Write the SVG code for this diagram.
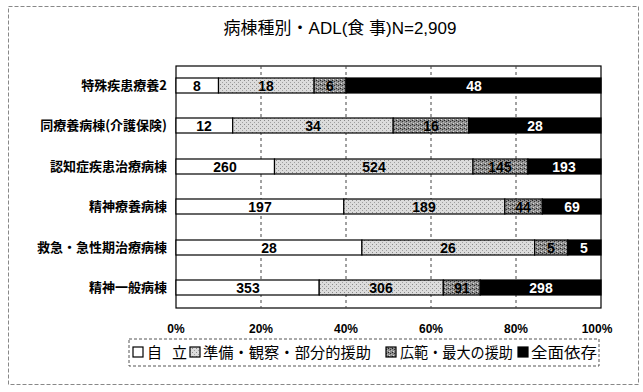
<svg xmlns="http://www.w3.org/2000/svg" width="643" height="392" viewBox="0 0 643 392">
<defs>
<pattern id="pLight" width="4" height="4" patternUnits="userSpaceOnUse">
<rect width="4" height="4" fill="#dcdcdc"/>
<rect x="0" y="0" width="1" height="1" fill="#8a8a8a"/>
<rect x="2" y="2" width="1" height="1" fill="#a0a0a0"/>
</pattern>
<pattern id="pDark" width="4" height="4" patternUnits="userSpaceOnUse">
<rect width="4" height="4" fill="#8c8c8c"/>
<rect x="0" y="0" width="1" height="1" fill="#222"/>
<rect x="2" y="1" width="1" height="1" fill="#333"/>
<rect x="1" y="3" width="1" height="1" fill="#dcdcdc"/>
<rect x="3" y="2" width="1" height="1" fill="#bbb"/>
</pattern>
<style>
.frame{fill:#fff;stroke:#888;stroke-width:1;stroke-dasharray:4,2}
.plot{fill:#fff;stroke:#000;stroke-width:1.2}
.grid{stroke:#444;stroke-width:1;stroke-dasharray:3,3}
.seg{stroke:#000;stroke-width:1.2}
.w{fill:#fff}.l{fill:url(#pLight)}.d{fill:url(#pDark)}.b{fill:#000}
.cat{font-family:"Noto Sans CJK JP","Noto Sans CJK SC",sans-serif;font-size:13px;font-weight:bold;fill:#000;text-anchor:end}
.val{font-family:"Liberation Sans",Arial,sans-serif;font-size:14px;font-weight:bold;text-anchor:middle}
.vk{fill:#000}.vw{fill:#fff}
.ax{font-family:"Liberation Sans",Arial,sans-serif;font-size:12px;font-weight:bold;fill:#000;text-anchor:middle}
.title{font-family:"Liberation Sans","Noto Sans CJK JP",sans-serif;font-size:17px;fill:#000}
.leg{font-family:"Noto Sans CJK JP","Noto Sans CJK SC",sans-serif;font-size:15px;fill:#000}
.lbox{fill:#fff;stroke:#555;stroke-width:1;stroke-dasharray:3,2}
.key{stroke:#000;stroke-width:1.2}
</style>
</defs>
<rect class="frame" x="8.5" y="6.5" width="630" height="378"/>
<text class="title" x="340" y="34" text-anchor="middle">病棟種別・ADL(食 事)N=2,909</text>
<g id="plot-area">
<rect class="plot" x="176" y="66" width="425" height="242"/>
<line class="grid" x1="261" y1="66" x2="261" y2="308"/>
<line class="grid" x1="346" y1="66" x2="346" y2="308"/>
<line class="grid" x1="431" y1="66" x2="431" y2="308"/>
<line class="grid" x1="516" y1="66" x2="516" y2="308"/>
</g>
<g id="row1">
<text class="cat" x="167" y="90">特殊疾患療養2</text>
<rect class="seg w" x="176" y="78" width="42.5" height="15"/>
<rect class="seg l" x="218.5" y="78" width="95.6" height="15"/>
<rect class="seg d" x="314.1" y="78" width="31.9" height="15"/>
<rect class="seg b" x="346" y="78" width="255" height="15"/>
<text class="val vk" x="197" y="91">8</text>
<text class="val vk" x="266" y="91">18</text>
<text class="val vk" x="330" y="91">6</text>
<text class="val vw" x="474" y="91">48</text>
</g>
<g id="row2">
<text class="cat" x="167" y="130">同療養病棟(介護保険)</text>
<rect class="seg w" x="176" y="118" width="56.7" height="15"/>
<rect class="seg l" x="232.7" y="118" width="160.5" height="15"/>
<rect class="seg d" x="393.2" y="118" width="75.6" height="15"/>
<rect class="seg b" x="468.8" y="118" width="132.2" height="15"/>
<text class="val vk" x="204" y="131">12</text>
<text class="val vk" x="313" y="131">34</text>
<text class="val vk" x="431" y="131">16</text>
<text class="val vw" x="535" y="131">28</text>
</g>
<g id="row3">
<text class="cat" x="167" y="171">認知症疾患治療病棟</text>
<rect class="seg w" x="176" y="159" width="98.5" height="15"/>
<rect class="seg l" x="274.5" y="159" width="198.5" height="15"/>
<rect class="seg d" x="473" y="159" width="54.9" height="15"/>
<rect class="seg b" x="527.9" y="159" width="73.1" height="15"/>
<text class="val vk" x="225" y="172">260</text>
<text class="val vk" x="374" y="172">524</text>
<text class="val vk" x="500" y="172">145</text>
<text class="val vw" x="564" y="172">193</text>
</g>
<g id="row4">
<text class="cat" x="167" y="211">精神療養病棟</text>
<rect class="seg w" x="176" y="199" width="167.8" height="15"/>
<rect class="seg l" x="343.8" y="199" width="161" height="15"/>
<rect class="seg d" x="504.8" y="199" width="37.5" height="15"/>
<rect class="seg b" x="542.3" y="199" width="58.7" height="15"/>
<text class="val vk" x="260" y="212">197</text>
<text class="val vk" x="424" y="212">189</text>
<text class="val vk" x="523" y="212">44</text>
<text class="val vw" x="572" y="212">69</text>
</g>
<g id="row5">
<text class="cat" x="167" y="252">救急・急性期治療病棟</text>
<rect class="seg w" x="176" y="240" width="185.9" height="15"/>
<rect class="seg l" x="361.9" y="240" width="172.7" height="15"/>
<rect class="seg d" x="534.6" y="240" width="33.2" height="15"/>
<rect class="seg b" x="567.8" y="240" width="33.2" height="15"/>
<text class="val vk" x="269" y="253">28</text>
<text class="val vk" x="448" y="253">26</text>
<text class="val vk" x="551" y="253">5</text>
<text class="val vw" x="584" y="253">5</text>
</g>
<g id="row6">
<text class="cat" x="167" y="292">精神一般病棟</text>
<rect class="seg w" x="176" y="280" width="143.2" height="15"/>
<rect class="seg l" x="319.2" y="280" width="124.1" height="15"/>
<rect class="seg d" x="443.3" y="280" width="36.9" height="15"/>
<rect class="seg b" x="480.2" y="280" width="120.8" height="15"/>
<text class="val vk" x="248" y="293">353</text>
<text class="val vk" x="381" y="293">306</text>
<text class="val vk" x="462" y="293">91</text>
<text class="val vw" x="541" y="293">298</text>
</g>
<g id="axis">
<text class="ax" x="176" y="333">0%</text>
<text class="ax" x="261" y="333">20%</text>
<text class="ax" x="346" y="333">40%</text>
<text class="ax" x="431" y="333">60%</text>
<text class="ax" x="516" y="333">80%</text>
<text class="ax" x="597" y="333">100%</text>
</g>
<g id="legend">
<rect class="lbox" x="129" y="339" width="470" height="27"/>
<rect class="key w" x="133" y="347" width="10" height="10"/>
<text class="leg" x="147" y="358" textLength="40" lengthAdjust="spacing">自　立</text>
<rect class="key l" x="190" y="347" width="10" height="10"/>
<text class="leg" x="203" y="358" textLength="168" lengthAdjust="spacingAndGlyphs">準備・観察・部分的援助</text>
<rect class="key d" x="386" y="347" width="10" height="10"/>
<text class="leg" x="400" y="358" textLength="113" lengthAdjust="spacingAndGlyphs">広範・最大の援助</text>
<rect class="key b" x="518" y="347" width="10" height="10"/>
<text class="leg" x="531" y="358" textLength="66" lengthAdjust="spacingAndGlyphs">全面依存</text>
</g>
</svg>
